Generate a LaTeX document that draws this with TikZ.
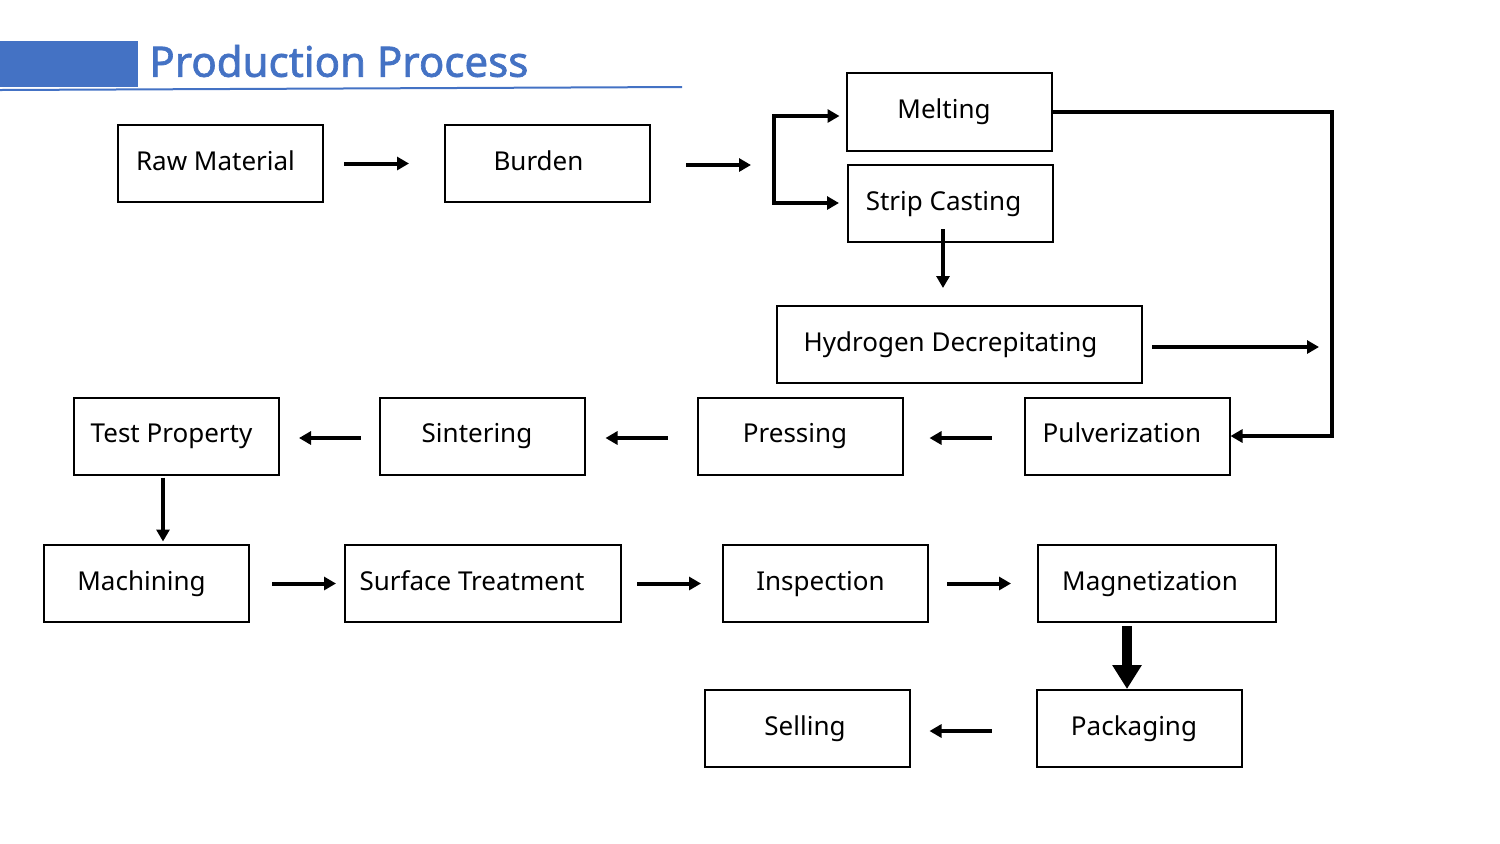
\documentclass[tikz,border=0pt]{standalone}
\usepackage{fontspec}
\setmainfont{Noto Sans}
\newfontfamily\titlefont[AutoFakeBold=1.6]{Noto Sans}
\usetikzlibrary{arrows.meta,calc}
\definecolor{titleblue}{HTML}{4472C4}
\begin{document}
\begin{tikzpicture}[x=0.5pt,y=-0.5pt,
  box/.style={draw, line width=1pt, inner sep=0pt, minimum width=102.5pt, minimum height=38.5pt,
    text height=9.5pt, text depth=3pt, font=\fontsize{13}{16}\selectfont,
    execute at begin node=\kern-2.5pt\relax, execute at end node=\kern2.5pt\relax},
  arr/.style={line width=2pt, line join=miter, -{Triangle[length=6pt,width=6.5pt]}},
  bigarr/.style={line width=5pt, -{Triangle[length=12pt,width=14pt]}}]
\useasboundingbox (0,0) rectangle (1500,843);
% title
\fill[titleblue] (0,41) rectangle (138,87);
\draw[titleblue, line width=1pt] (0,90) -- (682,87);
\node[anchor=west, text=titleblue, inner sep=0pt, font=\fontsize{21}{24}\titlefont\bfseries] (title) at (149,61) {Production Process};
% boxes
\node[box] (raw) at (220.5,163.5) {Raw Material};
\node[box] (burden) at (547.5,163.5) {\kern-2pt Burden\kern2pt};
\node[box, minimum height=39pt] (melting) at (949,112) {Melting};
\node[box] (strip) at (950.5,203.5) {\kern-1pt Strip Casting\kern1pt};
\node[box, minimum width=182.5pt] (hydro) at (959.5,344.5) {\kern-2pt Hydrogen Decrepitating\kern2pt};
\node[box] (test) at (176.5,436) {Test Property};
\node[box] (sinter) at (482,436) {Sintering};
\node[box] (press) at (800,436) {Pressing};
\node[box] (pulv) at (1127,436) {Pulverization};
\node[box] (mach) at (146.5,583.5) {Machining};
\node[box, minimum width=138pt] (surf) at (483,583.5) {\kern-3pt Surface Treatment\kern3pt};
\node[box] (insp) at (825.5,583.5) {Inspection};
\node[box, minimum width=119pt] (magn) at (1157,583.5) {\kern-1pt Magnetization\kern1pt};
\node[box] (sell) at (807,728.5) {\kern1.5pt Selling\kern-1.5pt};
\node[box] (pack) at (1139,728.5) {Packaging};
% coordinates
\coordinate (bt) at (774,116);
\coordinate (bb) at (774,203);
\coordinate (mr) at (1332,112);
\coordinate (mb) at (1332,436);
% connectors
\draw[arr] ($(raw.east)+(20,0)$) -- ($(burden.west)+(-35,0)$);
\draw[arr] ($(burden.east)+(35,1.5)$) -- ($(burden.east)+(100,1.5)$);
\draw[arr] (bb) -- (bt) -- ($(melting.west)+(-6,4)$);
\draw[arr] (bt) -- (bb) -- ($(strip.west)+(-8,-0.5)$);
\draw[arr] ($(strip.south)+(-7.5,-14)$) -- ($(strip.south)+(-7.5,45)$);
\draw[arr] (melting.east) -- (mr) -- (mb) -- (pulv.east);
\draw[arr] ($(hydro.east)+(9,2.5)$) -- ($(hydro.east)+(176,2.5)$);
\draw[arr] ($(pulv.west)+(-32,2)$) -- ($(press.east)+(26,2)$);
\draw[arr] ($(press.west)+(-29,2)$) -- ($(sinter.east)+(20,2)$);
\draw[arr] ($(sinter.west)+(-18,2)$) -- ($(test.east)+(19,2)$);
\draw[arr] ($(test.south)+(-13.5,2)$) -- ($(test.south)+(-13.5,66)$);
\draw[arr] ($(mach.east)+(22,0)$) -- ($(surf.west)+(-8,0)$);
\draw[arr] ($(surf.east)+(15,0)$) -- ($(insp.west)+(-21,0)$);
\draw[arr] ($(insp.east)+(18,0)$) -- ($(magn.west)+(-26,0)$);
\draw[bigarr] ($(magn.south)+(-30,3)$) -- ($(pack.north)+(-12,0)$);
\draw[arr] ($(pack.west)+(-44,2.5)$) -- ($(sell.east)+(19,2.5)$);
\end{tikzpicture}
\end{document}
